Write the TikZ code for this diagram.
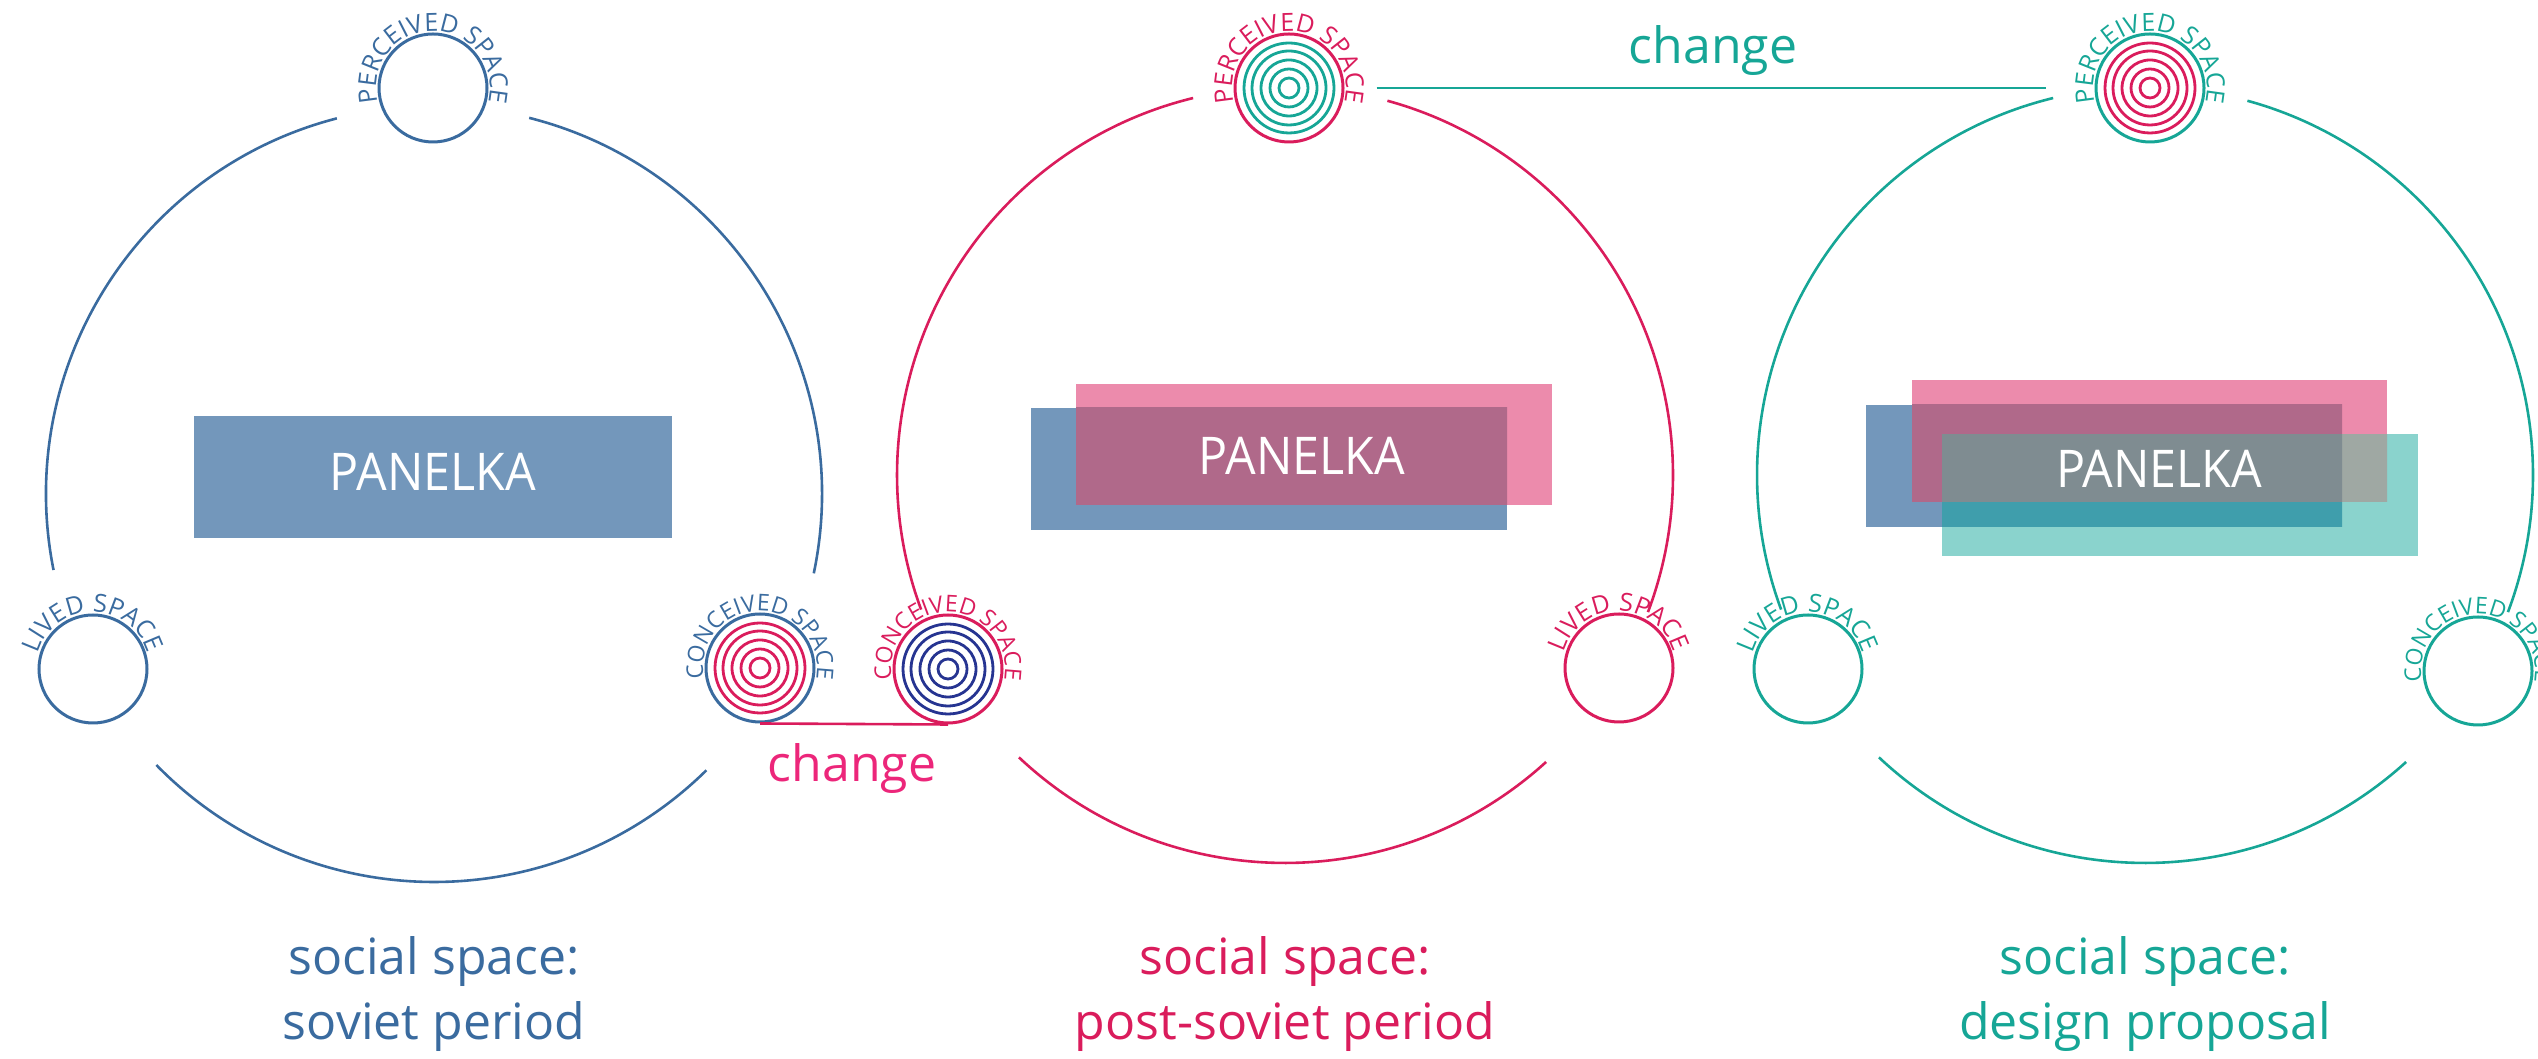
\documentclass[tikz,border=0pt]{standalone}
\usepackage{fontspec}
\setmainfont{Open Sans}
\newfontfamily\panelfont[FakeStretch=0.93]{Open Sans}
\usetikzlibrary{decorations.text}

\definecolor{sblue}{RGB}{58,107,159}
\definecolor{spink}{RGB}{218,28,92}
\definecolor{steal}{RGB}{22,166,150}
\definecolor{snavy}{RGB}{38,52,145}
\definecolor{cpink}{RGB}{236,38,122}
\definecolor{rblue}{RGB}{115,151,187}
\definecolor{rpink}{RGB}{236,139,172}
\definecolor{rteal}{RGB}{138,211,205}
\definecolor{ovbp}{RGB}{176,105,138}
\definecolor{ovbt}{RGB}{63,158,172}
\definecolor{ovpt}{RGB}{159,168,163}
\definecolor{ovall}{RGB}{127,140,145}

% #1 node, #2 colour, #3 font size, #4 text
\newcommand\arclabel[4]{%
  \path[decorate, decoration={text along path, text align=center, text color=#2,
    text={|\fontsize{#3}{#3}\selectfont|#4}}]
    ([shift={(260:57)}]#1.center) arc[start angle=260, end angle=-80, radius=57];}

\begin{document}
\begin{tikzpicture}[x=1pt,y=1pt,
  bigarc/.style={line width=2.6pt},
  spacenode/.style={circle, draw, line width=3pt, minimum size=108pt, inner sep=0pt},
  ringline/.style={line width=2.8pt},
  paneltext/.style={white, font=\panelfont\fontsize{52}{62}\selectfont, inner sep=0pt},
  bottomlab/.style={font=\fontsize{50}{60}\selectfont, inner sep=0pt},
  changelab/.style={font=\fontsize{50}{60}\selectfont, inner sep=0pt},
  connector/.style={line width=2.6pt}]
\useasboundingbox (0,0) rectangle (2538,1059);

% ---------- big circles ----------
\coordinate (C1) at (434,565);
\coordinate (C2) at (1285,584);
\coordinate (C3) at (2145,584);

\draw[bigarc, sblue] ([shift={(104.5:388)}]C1) arc[start angle=104.5, end angle=191.3, radius=388];
\draw[bigarc, sblue] ([shift={(224.3:388)}]C1) arc[start angle=224.3, end angle=314.6, radius=388];
\draw[bigarc, sblue] ([shift={(348.2:388)}]C1) arc[start angle=348.2, end angle=435.8, radius=388];

\draw[bigarc, spink] ([shift={(103.7:388)}]C2) arc[start angle=103.7, end angle=200.3, radius=388];
\draw[bigarc, spink] ([shift={(226.7:388)}]C2) arc[start angle=226.7, end angle=312.3, radius=388];
\draw[bigarc, spink] ([shift={(339.3:388)}]C2) arc[start angle=339.3, end angle=434.7, radius=388];

\draw[bigarc, steal] ([shift={(103.7:388)}]C3) arc[start angle=103.7, end angle=200.3, radius=388];
\draw[bigarc, steal] ([shift={(226.7:388)}]C3) arc[start angle=226.7, end angle=312.3, radius=388];
\draw[bigarc, steal] ([shift={(339.3:388)}]C3) arc[start angle=339.3, end angle=434.7, radius=388];

% ---------- panels ----------
\fill[rblue] (194,521) rectangle (672,643);
\node[paneltext, anchor=base] (pan1) at (433,568) {PANELKA};

\fill[rblue] (1031,529) rectangle (1507,651);
\fill[rpink] (1076,554) rectangle (1552,675);
\begin{scope}
  \clip (1031,529) rectangle (1507,651);
  \fill[ovbp] (1076,554) rectangle (1552,675);
\end{scope}
\node[paneltext, anchor=base] (pan2) at (1302,584) {PANELKA};

\fill[rblue] (1866,532) rectangle (2342,654);
\fill[rpink] (1912,557) rectangle (2387,679);
\fill[rteal] (1942,503) rectangle (2418,625);
\begin{scope}
  \clip (1866,532) rectangle (2342,654);
  \fill[ovbp] (1912,557) rectangle (2387,679);
\end{scope}
\begin{scope}
  \clip (1866,532) rectangle (2342,654);
  \fill[ovbt] (1942,503) rectangle (2418,625);
\end{scope}
\begin{scope}
  \clip (1912,557) rectangle (2387,679);
  \fill[ovpt] (1942,503) rectangle (2418,625);
\end{scope}
\begin{scope}
  \clip (1866,532) rectangle (2342,654);
  \clip (1912,557) rectangle (2387,679);
  \fill[ovall] (1942,503) rectangle (2418,625);
\end{scope}
\node[paneltext, anchor=base] (pan3) at (2159,571) {PANELKA};

% ---------- small space circles ----------
\node[spacenode, draw=sblue] (p1) at (433,971) {};
\node[spacenode, draw=sblue] (l1) at (93,390) {};
\node[spacenode, draw=sblue] (k1) at (760,391) {};

\node[spacenode, draw=spink] (p2) at (1289,971) {};
\node[spacenode, draw=spink] (k2) at (948,390) {};
\node[spacenode, draw=spink] (l2) at (1619,391) {};

\node[spacenode, draw=steal] (p3) at (2150,971) {};
\node[spacenode, draw=steal] (l3) at (1808,390) {};
\node[spacenode, draw=steal] (k3) at (2478,388) {};

% concentric rings
\foreach \r in {10,19,28,37,45} {
  \draw[ringline, spink] (k1.center) circle[radius=\r];
  \draw[ringline, snavy] (k2.center) circle[radius=\r];
  \draw[ringline, steal] (p2.center) circle[radius=\r];
  \draw[ringline, spink] (p3.center) circle[radius=\r];
}

% curved labels
\arclabel{p1}{sblue}{25}{PERCEIVED SPACE}
\arclabel{l1}{sblue}{25}{LIVED SPACE}
\arclabel{k1}{sblue}{23}{CONCEIVED SPACE}
\arclabel{p2}{spink}{25}{PERCEIVED SPACE}
\arclabel{k2}{spink}{23}{CONCEIVED SPACE}
\arclabel{l2}{spink}{25}{LIVED SPACE}
\arclabel{p3}{steal}{25}{PERCEIVED SPACE}
\arclabel{l3}{steal}{25}{LIVED SPACE}
\arclabel{k3}{steal}{23}{CONCEIVED SPACE}

% ---------- change connectors ----------
\draw[connector, spink] (k1.south) -- (k2.south);
\node[changelab, text=cpink, anchor=base] (ch1) at (852,277) {change};

\draw[connector, steal, shorten <=32pt, shorten >=49pt] (p2.east) -- (p3.west);
\node[changelab, text=steal, anchor=base] (ch2) at (1713,995) {change};

% ---------- bottom labels ----------
\node[bottomlab, text=sblue, anchor=base] (s1a) at (434,84) {social space:};
\node[bottomlab, text=sblue, anchor=base] (s1b) at (434,19) {soviet period};
\node[bottomlab, text=spink, anchor=base] (s2a) at (1285,84) {social space:};
\node[bottomlab, text=spink, anchor=base] (s2b) at (1285,19) {post-soviet period};
\node[bottomlab, text=steal, anchor=base] (s3a) at (2145,84) {social space:};
\node[bottomlab, text=steal, anchor=base] (s3b) at (2145,19) {design proposal};
\end{tikzpicture}
\end{document}
